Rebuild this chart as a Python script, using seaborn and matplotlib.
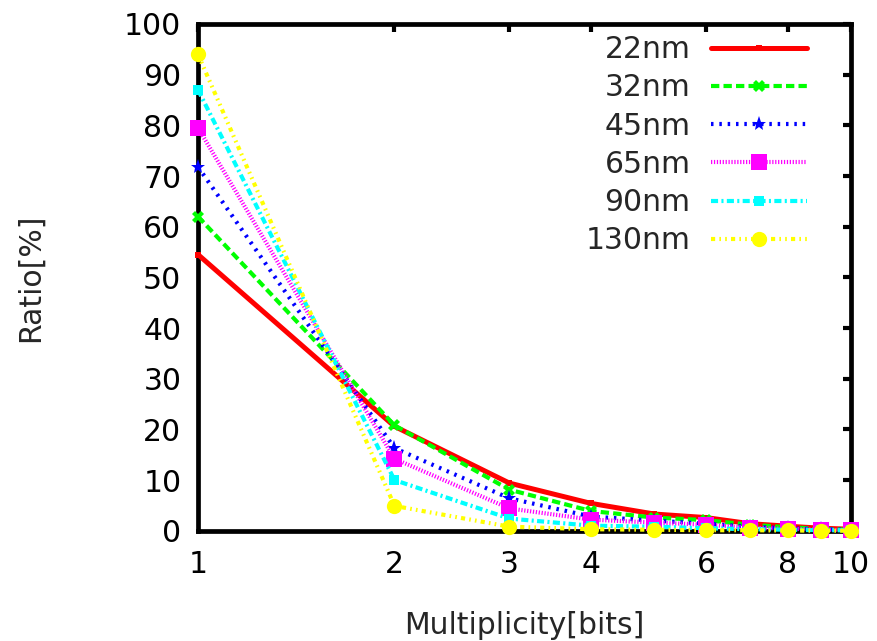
import matplotlib
matplotlib.use("Agg")
import matplotlib.pyplot as plt
import matplotlib.ticker as mticker
import numpy as np
import pandas as pd
import seaborn as sns

# ── Data ──────────────────────────────────────────────────────────────────────
multiplicity = [1, 2, 3, 4, 5, 6, 7, 8, 9, 10]
nodes = ["22nm", "32nm", "45nm", "65nm", "90nm", "130nm"]
ratio_22nm = [54.5, 20.6, 9.4, 5.4, 3.3, 2.6, 1.4, 0.9, 0.5, 0.3]
ratio_32nm = [62.0, 20.8, 8.1, 3.9, 2.6, 2.1, 1.2, 0.7, 0.4, 0.2]
ratio_45nm = [71.8, 16.3, 6.4, 2.8, 2.0, 1.4, 0.8, 0.5, 0.3, 0.2]
ratio_65nm = [79.5, 14.2, 4.4, 2.2, 1.6, 1.2, 0.6, 0.4, 0.2, 0.1]
ratio_90nm = [87.0, 10.0, 2.4, 1.0, 0.8, 0.5, 0.3, 0.2, 0.1, 0.1]
ratio_130nm = [94.0, 4.9, 0.8, 0.3, 0.2, 0.1, 0.1, 0.05, 0.02, 0.01]
x_ticks = [1, 2, 3, 4, 6, 8, 10]

ratios = [ratio_22nm, ratio_32nm, ratio_45nm, ratio_65nm, ratio_90nm, ratio_130nm]
df = pd.concat(
    [pd.DataFrame({"Multiplicity": multiplicity, "Ratio": r, "Node": n})
     for n, r in zip(nodes, ratios)],
    ignore_index=True,
)

# gnuplot-like styles
STYLES = {
    "22nm":  dict(color="#ff0000", lw=3.6, dashes=None, marker="s", ms=4),
    "32nm":  dict(color="#00ff00", lw=3.0, dashes=(2.0, 1.0), marker="X", ms=8),
    "45nm":  dict(color="#0000ff", lw=3.0, dashes=(0.6, 1.4), marker="*", ms=11),
    "65nm":  dict(color="#ff00ff", lw=3.0, dashes=(0.3, 0.4), marker="s", ms=11),
    "90nm":  dict(color="#00ffff", lw=3.0, dashes=(1.7, 0.8, 0.5, 0.8), marker="s", ms=7),
    "130nm": dict(color="#ffff00", lw=3.0, dashes=(1.0, 1.0, 0.4, 1.0, 0.4, 1.0), marker="o", ms=11),
}

FS = 21.5
sns.set_style("white")
plt.rcParams["font.family"] = ["DejaVu Sans"]
plt.rcParams["font.size"] = FS

fig = plt.figure(figsize=(8.78, 6.41), dpi=100)
ax = fig.add_axes([0.2255, 0.172, 0.7435, 0.7906])

for node in nodes:
    st = STYLES[node]
    sub = df[df["Node"] == node]
    sns.lineplot(data=sub, x="Multiplicity", y="Ratio", ax=ax, label=node,
                 color=st["color"], linewidth=st["lw"], marker=st["marker"],
                 markersize=st["ms"], markeredgewidth=0,
                 markeredgecolor=st["color"], estimator=None, sort=False,
                 clip_on=False, zorder=3)
    l = ax.get_lines()[-1]
    if st["dashes"] is not None:
        l.set_dashes(st["dashes"])

ax.set_xscale("log")
ax.set_xlim(1, 10)
ax.set_ylim(0, 100)
ax.xaxis.set_major_locator(mticker.FixedLocator(x_ticks))
ax.xaxis.set_major_formatter(mticker.FixedFormatter([str(t) for t in x_ticks]))
ax.xaxis.set_minor_locator(mticker.NullLocator())
ax.yaxis.set_major_locator(mticker.MultipleLocator(10))

for side in ax.spines.values():
    side.set_linewidth(3.4)
    side.set_color("black")
    side.set_zorder(2)
ax.tick_params(axis="both", which="major", direction="in", length=6, width=3,
               top=True, right=True, labelsize=FS, colors="black")
ax.tick_params(axis="x", pad=14)
ax.tick_params(axis="y", pad=12)

ax.set_xlabel("Multiplicity[bits]", fontsize=FS, labelpad=23)
ax.set_ylabel("Ratio[%]", fontsize=FS, labelpad=57)

leg = ax.legend(loc="upper right", frameon=False, markerfirst=False,
                handlelength=3.2, labelspacing=0.31, fontsize=FS,
                borderaxespad=0.1, borderpad=0.1, handletextpad=0.7,
                bbox_to_anchor=(0.942, 0.99))
for t in leg.get_texts():
    t.set_ha("right")

fig.savefig("out.png", dpi=100)
